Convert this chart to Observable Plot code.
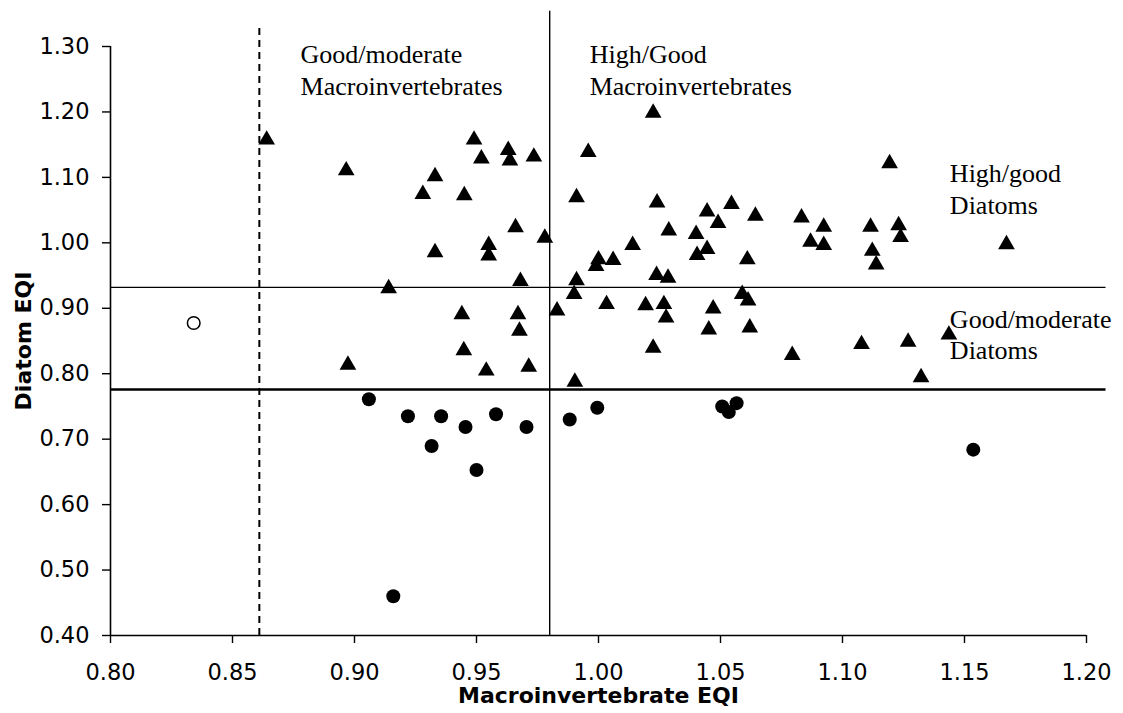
<!DOCTYPE html>
<html>
<head>
<meta charset="utf-8">
<script src="https://cdn.jsdelivr.net/npm/d3@7"></script>
<script src="https://cdn.jsdelivr.net/npm/@observablehq/plot@0.6"></script>
<style>
  html, body { margin: 0; padding: 0; background: #fff; }
</style>
</head>
<body>
<div id="chart"></div>
<script>
// Triangles: sites (Macroinvertebrate EQI, Diatom EQI)
const triX = [0.864, 0.8966, 0.949, 0.952, 0.933, 0.928, 0.945, 0.933, 0.955, 0.955,
  0.914, 0.944, 0.8973, 0.9448, 0.954, 1.0224, 0.9958, 0.963, 0.9637, 0.9735,
  0.991, 0.966, 0.978, 0.968, 0.991, 0.990, 0.983, 0.967, 0.9676, 0.9714,
  0.9903, 1.000, 0.999, 1.006, 1.014, 1.024, 1.0288, 1.0445, 1.049, 1.0545,
  1.0643, 1.040, 1.0445, 1.0404, 1.061, 1.0238, 1.0285, 1.0033, 1.0193, 1.0268,
  1.0277, 1.047, 1.0589, 1.0613, 1.0224, 1.0452, 1.062, 1.0794, 1.0832, 1.0923,
  1.0869, 1.0923, 1.1115, 1.1122, 1.1138, 1.1193, 1.123, 1.1238, 1.1672, 1.1078,
  1.1269, 1.1436, 1.1322];
const triY = [1.161, 1.114, 1.161, 1.132, 1.105, 1.078, 1.076, 0.989, 1.000, 0.984,
  0.934, 0.894, 0.817, 0.839, 0.808, 1.202, 1.142, 1.145, 1.129, 1.135,
  1.073, 1.027, 1.011, 0.945, 0.946, 0.925, 0.900, 0.894, 0.869, 0.814,
  0.791, 0.978, 0.968, 0.977, 1.000, 1.065, 1.022, 1.051, 1.0335, 1.0625,
  1.0447, 1.0167, 0.9937, 0.9846, 0.978, 0.954, 0.950, 0.9096, 0.908, 0.9096,
  0.889, 0.903, 0.925, 0.915, 0.843, 0.871, 0.874, 0.832, 1.042, 1.028,
  1.005, 1.000, 1.028, 0.991, 0.970, 1.125, 1.030, 1.012, 1.001, 0.8485,
  0.852, 0.863, 0.798];
// Filled circles
const dotX = [0.9059, 0.9219, 0.9355, 0.9455, 0.9316, 0.950, 0.9159, 0.958, 0.9705, 0.9882,
  0.9995, 1.0507, 1.0534, 1.0566, 1.1536];
const dotY = [0.761, 0.735, 0.735, 0.7185, 0.6895, 0.653, 0.460, 0.738, 0.7185, 0.730,
  0.748, 0.750, 0.7415, 0.755, 0.684];
// Open circle
const openX = [0.8341];
const openY = [0.8775];

// Class boundaries
const diatomHighGood = [0.932];
const diatomGoodModerate = [0.776];
const macroGoodModerate = [0.861];
const macroHighGood = [0.980];

// Tick values
const xTicks = [0.80, 0.85, 0.90, 0.95, 1.00, 1.05, 1.10, 1.15, 1.20];
const yTicks = [0.40, 0.50, 0.60, 0.70, 0.80, 0.90, 1.00, 1.10, 1.20, 1.30];

// Annotations
const noteText = ["Good/moderate", "Macroinvertebrates", "High/Good", "Macroinvertebrates",
  "High/good", "Diatoms", "Good/moderate", "Diatoms"];
const noteX = [0.8779, 0.8779, 0.9964, 0.9964, 1.144, 1.144, 1.144, 1.144];
const noteY = [1.2746, 1.2257, 1.2746, 1.2257, 1.0931, 1.0437, 0.8694, 0.822];

const xTitle = "Macroinvertebrate EQI";
const yTitle = "Diatom EQI";

const tri = triX.map((x, i) => ({x, y: triY[i]}));
const dots = dotX.map((x, i) => ({x, y: dotY[i]}));
const open = openX.map((x, i) => ({x, y: openY[i]}));
const notes = noteText.map((t, i) => ({t, x: noteX[i], y: noteY[i]}));

const chart = Plot.plot({
  width: 1123,
  height: 713,
  marginLeft: 110,
  marginRight: 37,
  marginTop: 46,
  marginBottom: 78,
  style: {fontFamily: "DejaVu Sans, sans-serif", fontSize: "22px", background: "#fff", color: "#000"},
  x: {domain: [0.80, 1.20], label: null},
  y: {domain: [0.40, 1.30], label: null},
  marks: [
    // horizontal diatom boundaries
    Plot.ruleY(diatomHighGood, {x1: 0.80, x2: 1.208, stroke: "#000", strokeWidth: 1.4}),
    Plot.ruleY(diatomGoodModerate, {x1: 0.80, x2: 1.208, stroke: "#000", strokeWidth: 2.6}),
    // vertical macroinvertebrate boundaries
    Plot.ruleX(macroGoodModerate, {y1: 0.40, y2: 1.333, stroke: "#000", strokeWidth: 2, strokeDasharray: "7,5"}),
    Plot.ruleX(macroHighGood, {y1: 0.40, y2: 1.354, stroke: "#000", strokeWidth: 1.4}),
    // axes
    Plot.ruleX([0.80], {y1: 0.40, y2: 1.30, stroke: "#000", strokeWidth: 1.6}),
    Plot.ruleY([0.40], {x1: 0.80, x2: 1.20, stroke: "#000", strokeWidth: 1.6}),
    Plot.axisX({ticks: xTicks, tickFormat: d => d.toFixed(2), tickSize: 8, tickPadding: 21, fontSize: 22.5,
      stroke: "#000", strokeWidth: 1.4, fill: "#000", label: null}),
    Plot.axisY({ticks: yTicks, tickFormat: d => d.toFixed(2), tickSize: 8, tickPadding: 13, fontSize: 22.5,
      stroke: "#000", strokeWidth: 1.4, fill: "#000", label: null}),
    // points
    Plot.dot(tri, {x: "x", y: "y", symbol: "triangle", r: 6.2, fill: "#000", stroke: "none", dy: 2.3}),
    Plot.dot(dots, {x: "x", y: "y", symbol: "circle", r: 7, fill: "#000", stroke: "none"}),
    Plot.dot(open, {x: "x", y: "y", symbol: "circle", r: 6.3, fill: "#fff", stroke: "#000", strokeWidth: 1.5}),
    // annotations
    Plot.text(notes, {x: "x", y: "y", text: "t", textAnchor: "start", lineAnchor: "bottom",
      fontFamily: "Liberation Serif, Times New Roman, serif", fontSize: 26, fill: "#000"}),
    // axis titles
    Plot.text([xTitle], {frameAnchor: "bottom", dy: 67, textAnchor: "middle", lineAnchor: "bottom",
      fontWeight: "bold", fontSize: 22, fill: "#000"}),
    Plot.text([yTitle], {frameAnchor: "left", dx: -87, rotate: -90, textAnchor: "middle", lineAnchor: "middle",
      fontWeight: "bold", fontSize: 22, fill: "#000"})
  ]
});
document.getElementById("chart").appendChild(chart);
</script>
</body>
</html>
